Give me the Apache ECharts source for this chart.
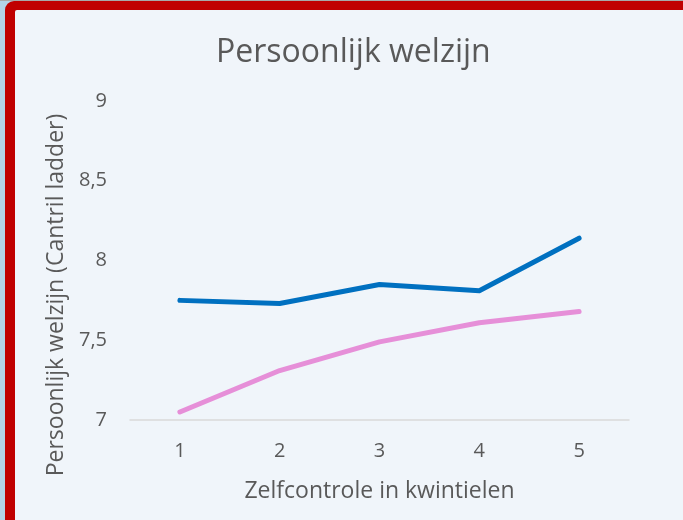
<!DOCTYPE html>
<html>
<head>
<meta charset="utf-8">
<script src="https://cdn.jsdelivr.net/npm/echarts@6/dist/echarts.min.js"></script>
<style>
html,body{margin:0;padding:0;width:683px;height:520px;overflow:hidden;background:#B3D3E8;}
#chart{width:683px;height:520px;}
</style>
</head>
<body>
<div id="chart"></div>
<script>
const categories = ['1', '2', '3', '4', '5'];
const seriesBlue = [7.75, 7.73, 7.85, 7.81, 8.14];
const seriesPink = [7.05, 7.31, 7.49, 7.61, 7.68];
const yTicks = [7, 7.5, 8, 8.5, 9];
const titleText = 'Persoonlijk welzijn';
const xName = 'Zelfcontrole in kwintielen';
const yName = 'Persoonlijk welzijn (Cantril ladder)';

const chart = echarts.init(document.getElementById('chart'), null, {renderer: 'canvas'});
const font = '"Open Sans", "Noto Sans", sans-serif';
chart.setOption({
  backgroundColor: '#B3D3E8',
  animation: false,
  title: {
    text: titleText,
    left: 211,
    top: 32,
    textStyle: {color: '#595959', fontSize: 32, fontWeight: 'normal', fontFamily: font}
  },
  graphic: [
    {type: 'rect', z: -10, silent: true, shape: {x: 0, y: 0, width: 683, height: 1}, style: {fill: '#A8A8A8'}},
    {type: 'rect', z: -10, silent: true, shape: {x: 5, y: 1, width: 700, height: 540, r: [9, 0, 0, 0]}, style: {fill: '#C00000'}},
    {type: 'rect', z: -9, silent: true, shape: {x: 15, y: 10, width: 700, height: 540, r: [2, 0, 0, 0]}, style: {fill: '#F0F5FA'}},
    {
      type: 'text',
      x: 56, y: 295,
      rotation: Math.PI / 2,
      style: {
        text: yName,
        fill: '#595959',
        font: '23px ' + font,
        textAlign: 'center',
        textVerticalAlign: 'middle'
      }
    }
  ],
  grid: {left: 130, right: 54, top: 101, bottom: 100},
  xAxis: {
    type: 'category',
    data: categories,
    boundaryGap: true,
    name: xName,
    nameLocation: 'middle',
    nameGap: 60,
    nameTextStyle: {color: '#595959', fontSize: 23, fontFamily: font},
    axisLine: {lineStyle: {color: '#D9D9D9', width: 1.5}},
    axisTick: {show: false},
    axisLabel: {color: '#595959', fontSize: 20, fontFamily: font, margin: 21}
  },
  yAxis: {
    type: 'value',
    min: yTicks[0],
    max: yTicks[yTicks.length - 1],
    interval: 0.5,
    axisLine: {show: false},
    axisTick: {show: false},
    splitLine: {show: false},
    axisLabel: {
      color: '#595959', fontSize: 20, fontFamily: font, margin: 23,
      formatter: v => String(v).replace('.', ',')
    }
  },
  series: [
    {
      type: 'line', data: seriesBlue, symbol: 'none',
      lineStyle: {color: '#0070C0', width: 5, cap: 'round', join: 'round'}
    },
    {
      type: 'line', data: seriesPink, symbol: 'none',
      lineStyle: {color: '#E68FD8', width: 5, cap: 'round', join: 'round'}
    }
  ]
});
</script>
</body>
</html>
